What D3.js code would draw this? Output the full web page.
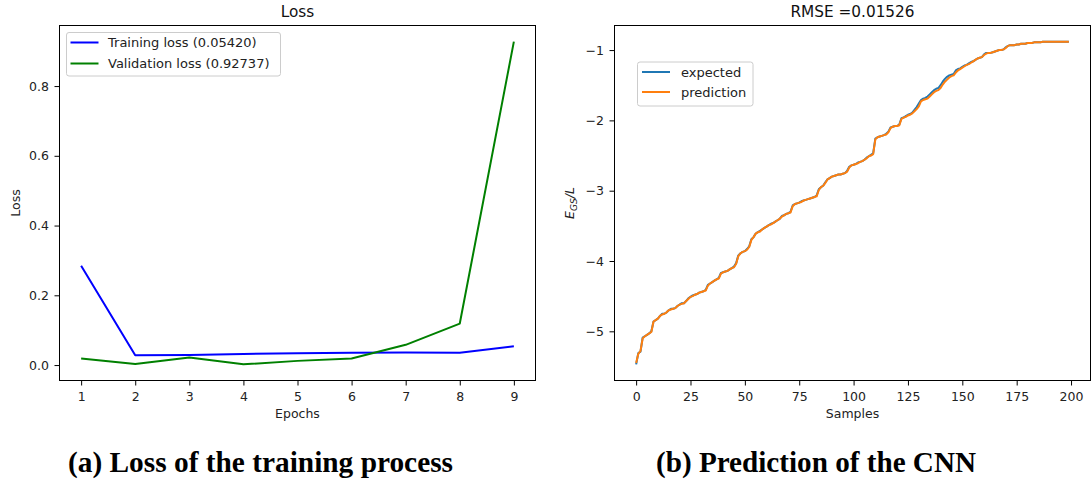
<!DOCTYPE html>
<html>
<head>
<meta charset="utf-8">
<script src="https://cdn.jsdelivr.net/npm/d3@7"></script>
<style>
  html, body { margin: 0; padding: 0; background: #fff; }
  svg { display: block; }
  .tick text { font-family: "DejaVu Sans", sans-serif; font-size: 12.5px; fill: #222; }
  .tick line { stroke: #000; stroke-width: 1; }
</style>
</head>
<body>
<script>
// ---- Panel (a): training history ----
const epochs = [1, 2, 3, 4, 5, 6, 7, 8, 9];
const trainingLoss   = [0.285, 0.028, 0.029, 0.032, 0.034, 0.035, 0.036, 0.035, 0.05420];
const validationLoss = [0.019, 0.003, 0.022, 0.002, 0.012, 0.019, 0.058, 0.119, 0.92737];
const lossTicks = [0.0, 0.2, 0.4, 0.6, 0.8];

// ---- Panel (b): expected vs predicted ground-state energy per site ----
const expected = [
  -5.47,-5.31,-5.29,-5.09,-5.07,-5.05,-5.03,-5.00,-4.86,-4.84,
  -4.82,-4.78,-4.75,-4.75,-4.73,-4.70,-4.68,-4.68,-4.67,-4.64,
  -4.62,-4.60,-4.60,-4.57,-4.53,-4.51,-4.49,-4.48,-4.47,-4.45,
  -4.44,-4.43,-4.41,-4.34,-4.32,-4.30,-4.28,-4.26,-4.24,-4.17,
  -4.16,-4.15,-4.14,-4.12,-4.10,-4.08,-4.03,-3.92,-3.89,-3.87,
  -3.86,-3.83,-3.79,-3.69,-3.66,-3.61,-3.59,-3.57,-3.55,-3.53,
  -3.51,-3.49,-3.47,-3.46,-3.44,-3.42,-3.40,-3.36,-3.35,-3.33,
  -3.32,-3.30,-3.21,-3.19,-3.18,-3.17,-3.15,-3.14,-3.13,-3.12,
  -3.11,-3.10,-3.09,-3.07,-2.98,-2.95,-2.93,-2.88,-2.84,-2.82,
  -2.80,-2.79,-2.78,-2.77,-2.77,-2.76,-2.75,-2.72,-2.66,-2.64,
  -2.63,-2.62,-2.60,-2.59,-2.58,-2.56,-2.53,-2.51,-2.49,-2.47,
  -2.26,-2.24,-2.23,-2.22,-2.21,-2.19,-2.16,-2.10,-2.09,-2.08,
  -2.08,-2.06,-1.97,-1.96,-1.94,-1.92,-1.91,-1.89,-1.85,-1.81,
  -1.76,-1.71,-1.69,-1.68,-1.66,-1.63,-1.60,-1.57,-1.55,-1.54,
  -1.50,-1.45,-1.41,-1.38,-1.36,-1.35,-1.34,-1.29,-1.27,-1.26,
  -1.24,-1.22,-1.21,-1.19,-1.17,-1.16,-1.14,-1.12,-1.11,-1.10,
  -1.06,-1.04,-1.04,-1.04,-1.03,-1.02,-1.01,-1.00,-1.00,-0.99,
  -0.96,-0.94,-0.93,-0.93,-0.93,-0.92,-0.92,-0.91,-0.91,-0.91,
  -0.90,-0.90,-0.90,-0.89,-0.89,-0.89,-0.89,-0.88,-0.88,-0.88,
  -0.88,-0.88,-0.88,-0.88,-0.88,-0.88,-0.88,-0.88,-0.88,-0.88
];
const prediction = [
  -5.45,-5.32,-5.28,-5.10,-5.07,-5.05,-5.03,-5.01,-4.86,-4.84,
  -4.82,-4.78,-4.76,-4.75,-4.73,-4.70,-4.69,-4.68,-4.67,-4.64,
  -4.62,-4.61,-4.60,-4.57,-4.54,-4.51,-4.50,-4.48,-4.47,-4.45,
  -4.44,-4.43,-4.42,-4.35,-4.32,-4.30,-4.28,-4.26,-4.25,-4.18,
  -4.16,-4.15,-4.14,-4.12,-4.10,-4.09,-4.04,-3.93,-3.89,-3.87,
  -3.86,-3.84,-3.80,-3.70,-3.66,-3.61,-3.59,-3.58,-3.55,-3.53,
  -3.51,-3.49,-3.48,-3.46,-3.44,-3.42,-3.40,-3.37,-3.35,-3.33,
  -3.32,-3.31,-3.22,-3.19,-3.18,-3.17,-3.16,-3.14,-3.13,-3.12,
  -3.11,-3.10,-3.09,-3.08,-2.99,-2.95,-2.93,-2.89,-2.84,-2.82,
  -2.80,-2.79,-2.78,-2.77,-2.77,-2.76,-2.75,-2.73,-2.67,-2.64,
  -2.63,-2.62,-2.61,-2.59,-2.58,-2.56,-2.54,-2.51,-2.50,-2.48,
  -2.27,-2.24,-2.23,-2.22,-2.21,-2.20,-2.17,-2.11,-2.09,-2.08,
  -2.08,-2.07,-1.98,-1.96,-1.95,-1.93,-1.92,-1.90,-1.87,-1.84,
  -1.80,-1.73,-1.71,-1.70,-1.69,-1.66,-1.63,-1.60,-1.58,-1.57,
  -1.54,-1.49,-1.45,-1.42,-1.39,-1.37,-1.36,-1.32,-1.29,-1.27,
  -1.25,-1.23,-1.21,-1.20,-1.18,-1.16,-1.14,-1.12,-1.11,-1.10,
  -1.07,-1.05,-1.04,-1.04,-1.03,-1.02,-1.01,-1.00,-1.00,-0.99,
  -0.97,-0.94,-0.93,-0.93,-0.93,-0.92,-0.92,-0.91,-0.91,-0.91,
  -0.90,-0.90,-0.90,-0.89,-0.89,-0.89,-0.89,-0.88,-0.88,-0.88,
  -0.88,-0.88,-0.88,-0.88,-0.88,-0.88,-0.88,-0.88,-0.88,-0.88
];
const sampleTicks = [0, 25, 50, 75, 100, 125, 150, 175, 200];
const energyTicks = [-5, -4, -3, -2, -1];

const W = 1092, H = 487;
const svg = d3.select("body").append("svg").attr("width", W).attr("height", H);

// extent padded by 5% on each side
function padded(ext) {
  const m = (ext[1] - ext[0]) * 0.05;
  return [ext[0] - m, ext[1] + m];
}

// generic axes panel: frame, ticks, title and axis labels
function panel(box, x, y, xTicks, yTicks, yFmt, title, xLabel) {
  const g = svg.append("g");
  g.append("g")
    .attr("transform", `translate(0,${box.bottom})`)
    .call(d3.axisBottom(x).tickValues(xTicks).tickSize(5).tickPadding(6.5).tickSizeOuter(0))
    .call(a => a.select(".domain").remove());
  g.append("g")
    .attr("transform", `translate(${box.left},0)`)
    .call(d3.axisLeft(y).tickValues(yTicks).tickFormat(yFmt).tickSize(5).tickPadding(5.5).tickSizeOuter(0))
    .call(a => a.select(".domain").remove());
  g.append("text")
    .attr("x", (box.left + box.right) / 2).attr("y", 16.5)
    .attr("text-anchor", "middle")
    .style("font-family", "DejaVu Sans").style("font-size", "15.3px").style("fill", "#111")
    .text(title);
  g.append("text")
    .attr("x", (box.left + box.right) / 2).attr("y", 418)
    .attr("text-anchor", "middle")
    .style("font-family", "DejaVu Sans").style("font-size", "12.5px").style("fill", "#222")
    .text(xLabel);
  return g;
}

function frame(box) {
  svg.append("rect")
    .attr("x", box.left).attr("y", box.top)
    .attr("width", box.right - box.left).attr("height", box.bottom - box.top)
    .attr("fill", "none").attr("stroke", "#000").attr("stroke-width", 1);
}

function legend(x0, y0, w, h, items, lineX, textX, rowY) {
  const g = svg.append("g");
  g.append("rect").attr("x", x0).attr("y", y0).attr("width", w).attr("height", h)
    .attr("rx", 2.5).attr("fill", "#fff").attr("fill-opacity", 0.8)
    .attr("stroke", "#cccccc").attr("stroke-width", 1);
  items.forEach((it, i) => {
    const cy = rowY[i];
    g.append("line").attr("x1", lineX[0]).attr("x2", lineX[1]).attr("y1", cy).attr("y2", cy)
      .attr("stroke", it.color).attr("stroke-width", 2);
    g.append("text").attr("x", textX).attr("y", cy + 4.6)
      .style("font-family", "DejaVu Sans").style("font-size", "13px").style("fill", "#222")
      .text(it.label);
  });
}

// ---------- panel (a) ----------
const boxA = { left: 59.5, right: 535.5, top: 25.5, bottom: 380.5 };
const xA = d3.scaleLinear().domain(padded(d3.extent(epochs))).range([boxA.left, boxA.right]);
const yA = d3.scaleLinear()
  .domain(padded(d3.extent(trainingLoss.concat(validationLoss))))
  .range([boxA.bottom, boxA.top]);
panel(boxA, xA, yA, epochs, lossTicks, d3.format(".1f"), "Loss", "Epochs");
svg.append("text")
  .attr("transform", `translate(20,${(boxA.top + boxA.bottom) / 2}) rotate(-90)`)
  .attr("text-anchor", "middle")
  .style("font-family", "DejaVu Sans").style("font-size", "12.5px").style("fill", "#222")
  .text("Loss");

const lineA = d3.line().x((d, i) => xA(epochs[i])).y(d => yA(d));
svg.append("path").datum(trainingLoss).attr("d", lineA)
  .attr("fill", "none").attr("stroke", "#0000ff").attr("stroke-width", 2).attr("stroke-linejoin", "round");
svg.append("path").datum(validationLoss).attr("d", lineA)
  .attr("fill", "none").attr("stroke", "#008000").attr("stroke-width", 2).attr("stroke-linejoin", "round");
frame(boxA);
legend(66.5, 32.5, 214, 43.5,
  [{ label: "Training loss (0.05420)", color: "#0000ff" },
   { label: "Validation loss (0.92737)", color: "#008000" }],
  [70.5, 98.5], 108, [42.5, 63.5]);

// ---------- panel (b) ----------
const boxB = { left: 614.5, right: 1090.5, top: 25.5, bottom: 380.5 };
const samples = d3.range(expected.length);
const xB = d3.scaleLinear().domain(padded(d3.extent(samples))).range([boxB.left, boxB.right]);
const yB = d3.scaleLinear()
  .domain(padded(d3.extent(expected.concat(prediction))))
  .range([boxB.bottom, boxB.top]);
panel(boxB, xB, yB, sampleTicks, energyTicks, d3.format("d"), "RMSE =0.01526", "Samples");

// y label: E_GS / L (italic, subscript)
const yl = svg.append("text")
  .attr("transform", `translate(574,${(boxB.top + boxB.bottom) / 2}) rotate(-90)`)
  .attr("text-anchor", "middle")
  .style("font-family", "DejaVu Sans").style("font-size", "12.5px").style("font-style", "italic").style("fill", "#222");
yl.append("tspan").text("E");
yl.append("tspan").attr("dy", 3).style("font-size", "9px").text("GS");
yl.append("tspan").attr("dy", -3).text("/L");

const lineB = d3.line().x((d, i) => xB(i)).y(d => yB(d));
svg.append("path").datum(expected).attr("d", lineB)
  .attr("fill", "none").attr("stroke", "#1f77b4").attr("stroke-width", 2).attr("stroke-linejoin", "round");
svg.append("path").datum(prediction).attr("d", lineB)
  .attr("fill", "none").attr("stroke", "#ff7f0e").attr("stroke-width", 2).attr("stroke-linejoin", "round");
frame(boxB);
legend(637.5, 62, 115.5, 44,
  [{ label: "expected", color: "#1f77b4" },
   { label: "prediction", color: "#ff7f0e" }],
  [642, 670], 681, [72, 92]);

// ---------- sub-figure captions ----------
const captions = [
  { text: "(a) Loss of the training process", x: 68, len: 385 },
  { text: "(b) Prediction of the CNN", x: 656, len: 320 }
];
svg.selectAll("text.caption").data(captions).join("text")
  .attr("class", "caption")
  .attr("x", d => d.x).attr("y", 472)
  .attr("textLength", d => d.len).attr("lengthAdjust", "spacingAndGlyphs")
  .style("font-family", "Liberation Serif, Times New Roman, serif")
  .style("font-weight", "bold").style("font-size", "29px").style("fill", "#000")
  .text(d => d.text);
</script>
</body>
</html>
